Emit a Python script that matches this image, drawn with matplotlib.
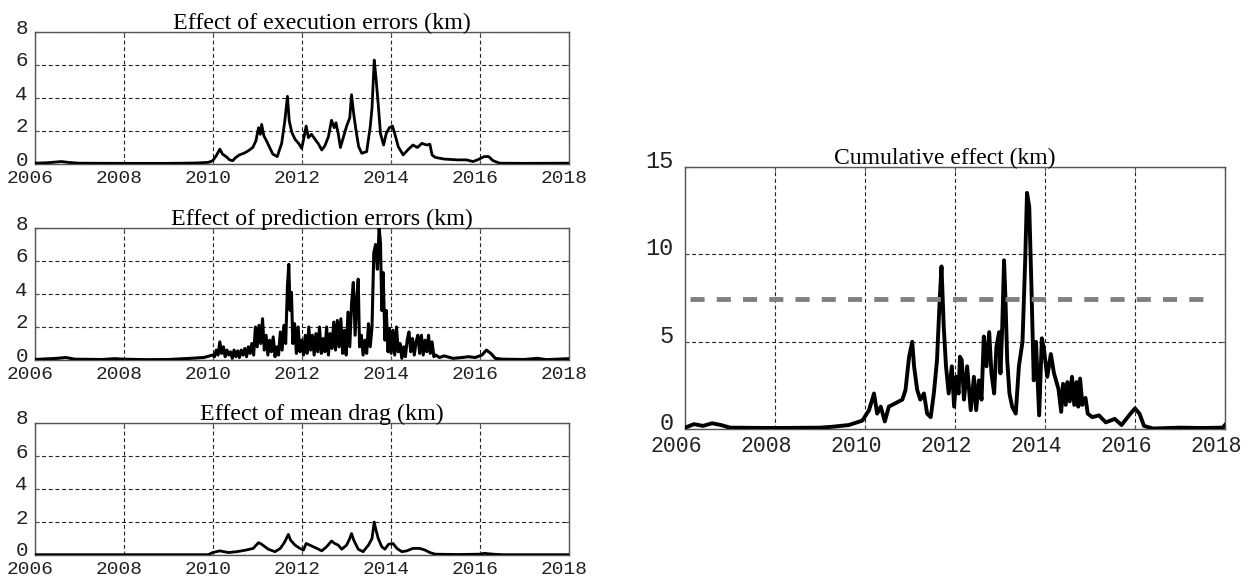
import matplotlib
matplotlib.use("Agg")
import matplotlib.pyplot as plt
import matplotlib.transforms as mtransforms

# ---------------- data ----------------
x_ticks = [2006, 2008, 2010, 2012, 2014, 2016, 2018]
x_ticklabels = ["2006", "2008", "2010", "2012", "2014", "2016", "2018"]
y_ticks_small = [0, 2, 4, 6, 8]
y_ticks_cum = [0, 5, 10, 15]

titles = ["Effect of execution errors (km)",
          "Effect of prediction errors (km)",
          "Effect of mean drag (km)"]
title_cum = "Cumulative effect (km)"

exec_t = [2006.0, 2006.3, 2006.6, 2006.75, 2007.0, 2008.0, 2009.0, 2009.6, 2009.9,
          2010.0, 2010.08, 2010.16, 2010.22, 2010.3, 2010.38, 2010.45, 2010.52, 2010.6,
          2010.7, 2010.8, 2010.9, 2010.97, 2011.03, 2011.07, 2011.1, 2011.15, 2011.2,
          2011.28, 2011.35, 2011.45, 2011.55, 2011.62, 2011.68, 2011.72, 2011.78, 2011.85,
          2011.93, 2012.0, 2012.05, 2012.1, 2012.15, 2012.22, 2012.3, 2012.38, 2012.45,
          2012.52, 2012.6, 2012.67, 2012.73, 2012.77, 2012.82, 2012.87, 2012.94, 2013.01,
          2013.08, 2013.12, 2013.17, 2013.22, 2013.28, 2013.35, 2013.46, 2013.54, 2013.58,
          2013.63, 2013.67, 2013.72, 2013.77, 2013.84, 2013.9, 2013.97, 2014.04, 2014.1,
          2014.17, 2014.28, 2014.4, 2014.5, 2014.6, 2014.7, 2014.81, 2014.88, 2014.93,
          2015.0, 2015.2, 2015.5, 2015.7, 2015.85, 2015.95, 2016.1, 2016.2, 2016.3,
          2016.45, 2017.0, 2018.0]
exec_v = [0.05, 0.08, 0.15, 0.1, 0.05, 0.04, 0.04, 0.06, 0.1,
          0.2, 0.5, 0.9, 0.6, 0.45, 0.25, 0.2, 0.4, 0.55,
          0.65, 0.8, 1.0, 1.4, 2.2, 1.8, 2.4, 1.7, 1.45,
          1.0, 0.6, 0.45, 1.25, 2.6, 4.1, 2.6, 1.9, 1.5,
          1.25, 0.95, 1.6, 2.3, 1.6, 1.8, 1.5, 1.2, 0.85,
          1.1, 1.65, 2.65, 2.2, 2.5, 1.85, 1.0, 1.65, 2.3,
          2.8, 4.2, 3.0, 2.05, 1.05, 0.65, 0.75, 2.25, 3.4,
          6.3, 5.2, 3.6, 1.85, 1.15, 1.85, 2.2, 2.3, 1.75,
          1.05, 0.55, 0.9, 1.15, 1.0, 1.25, 1.15, 1.2, 0.55,
          0.4, 0.3, 0.25, 0.25, 0.15, 0.25, 0.45, 0.45, 0.2,
          0.05, 0.04, 0.05]

pred_t = [2006.0, 2006.5, 2006.7, 2006.9, 2007.5, 2007.8, 2008.0, 2008.5, 2009.0, 2009.5, 2009.8, 2010.0,
          2010.04, 2010.08, 2010.12, 2010.16, 2010.2, 2010.24, 2010.28, 2010.32, 2010.36, 2010.4,
          2010.44, 2010.48, 2010.52, 2010.56, 2010.6, 2010.64, 2010.68, 2010.72, 2010.76, 2010.8,
          2010.84, 2010.88, 2010.92, 2010.96, 2011.0, 2011.04, 2011.08, 2011.12, 2011.16, 2011.2,
          2011.24, 2011.28, 2011.32, 2011.36, 2011.4, 2011.44, 2011.48, 2011.52, 2011.56, 2011.6,
          2011.64, 2011.68, 2011.71, 2011.74, 2011.77, 2011.8, 2011.84, 2011.88, 2011.92, 2011.96,
          2012.0, 2012.04, 2012.08, 2012.12, 2012.16, 2012.2, 2012.24, 2012.28, 2012.32, 2012.36,
          2012.4, 2012.44, 2012.48, 2012.52, 2012.56, 2012.6, 2012.64, 2012.68, 2012.72, 2012.76,
          2012.8, 2012.84, 2012.88, 2012.92, 2012.96, 2013.0, 2013.04, 2013.08, 2013.12, 2013.16,
          2013.2, 2013.24, 2013.27, 2013.3, 2013.34, 2013.38, 2013.42, 2013.46, 2013.5, 2013.54,
          2013.58, 2013.62, 2013.66, 2013.7, 2013.74, 2013.77, 2013.8, 2013.83, 2013.87, 2013.9,
          2013.94, 2013.97, 2014.01, 2014.05, 2014.09, 2014.13, 2014.17, 2014.21, 2014.25, 2014.29,
          2014.33, 2014.37, 2014.41, 2014.45, 2014.49, 2014.53, 2014.57, 2014.61, 2014.65, 2014.69,
          2014.73, 2014.77, 2014.81, 2014.85, 2014.89, 2014.93, 2014.97, 2015.01, 2015.1, 2015.2,
          2015.4, 2015.6, 2015.75, 2015.9, 2016.05, 2016.15, 2016.25, 2016.35, 2016.5, 2017.0,
          2017.3, 2017.5, 2018.0]
pred_v = [0.03, 0.1, 0.15, 0.05, 0.03, 0.08, 0.05, 0.02, 0.03, 0.1, 0.15, 0.3,
          0.2, 0.6, 0.3, 1.1, 0.4, 0.8, 0.2, 0.6, 0.3, 0.5,
          0.1, 0.6, 0.2, 0.55, 0.15, 0.6, 0.3, 0.7, 0.2, 0.8,
          0.4, 1.0, 0.3, 2.0, 0.8, 2.1, 1.0, 2.5, 0.6, 1.5,
          0.3, 1.2, 0.5, 1.4, 0.2, 0.8, 0.3, 1.7, 0.6, 2.1,
          1.0, 4.5, 5.8, 3.0, 4.1, 1.0, 2.2, 0.4, 2.0, 0.5,
          1.2, 0.3, 1.5, 0.4, 2.0, 0.6, 1.5, 0.3, 1.6, 0.5,
          2.0, 0.4, 1.3, 0.5, 2.0, 0.3, 1.6, 0.7, 2.3, 0.6,
          2.4, 0.8, 2.5, 0.4, 1.8, 0.3, 2.9, 0.8, 3.4, 4.7,
          1.5, 3.8, 4.9, 0.8, 1.5, 0.3, 1.2, 0.4, 2.2, 0.8,
          2.0, 6.5, 7.0, 5.5, 8.0, 7.1, 3.0, 5.3, 1.2, 3.0,
          0.5, 1.9, 0.4, 1.8, 0.3, 2.0, 0.5, 1.0, 0.1, 0.8,
          0.2, 1.2, 1.7, 0.5, 1.3, 0.3, 1.1, 1.5, 0.4, 1.5,
          0.3, 1.2, 0.5, 1.5, 0.4, 1.1, 0.2, 0.3, 0.15, 0.25,
          0.1, 0.15, 0.2, 0.15, 0.3, 0.6, 0.4, 0.1, 0.05, 0.03,
          0.1, 0.02, 0.08]

drag_t = [2006.0, 2009.9, 2010.0, 2010.16, 2010.35, 2010.54, 2010.75, 2010.91, 2011.03,
          2011.1, 2011.25, 2011.4, 2011.52, 2011.62, 2011.7, 2011.75, 2011.85, 2011.96,
          2012.04, 2012.1, 2012.22, 2012.34, 2012.45, 2012.56, 2012.67, 2012.74, 2012.82,
          2012.9, 2013.01, 2013.08, 2013.12, 2013.17, 2013.27, 2013.38, 2013.5, 2013.58,
          2013.63, 2013.67, 2013.72, 2013.8, 2013.87, 2013.95, 2014.05, 2014.14, 2014.25,
          2014.36, 2014.5, 2014.65, 2014.77, 2014.88, 2015.0, 2015.5, 2016.0, 2016.1,
          2016.3, 2016.5, 2018.0]
drag_v = [0.02, 0.02, 0.15, 0.25, 0.15, 0.2, 0.3, 0.4, 0.75,
          0.65, 0.35, 0.2, 0.4, 0.8, 1.25, 0.9, 0.6, 0.4,
          0.3, 0.7, 0.55, 0.4, 0.25, 0.5, 0.85, 0.7, 0.6,
          0.35, 0.6, 1.0, 1.3, 0.9, 0.35, 0.2, 0.6, 1.0,
          2.0, 1.5, 1.0, 0.5, 0.35, 0.65, 0.7, 0.4, 0.2,
          0.25, 0.4, 0.4, 0.3, 0.15, 0.05, 0.03, 0.05, 0.1,
          0.05, 0.02, 0.02]

cum_t = [2006.0, 2006.2, 2006.4, 2006.6, 2006.8, 2007.0, 2008.0, 2009.0, 2009.27, 2009.64,
         2009.94, 2010.09, 2010.2, 2010.27, 2010.35, 2010.44, 2010.53, 2010.68, 2010.83,
         2010.9, 2010.98, 2011.05, 2011.09, 2011.16, 2011.23, 2011.31, 2011.38, 2011.46,
         2011.53, 2011.6, 2011.66, 2011.7, 2011.75, 2011.8, 2011.86, 2011.93, 2011.98,
         2012.03, 2012.08, 2012.11, 2012.15, 2012.2, 2012.27, 2012.35, 2012.42, 2012.47,
         2012.53, 2012.59, 2012.64, 2012.7, 2012.76, 2012.81, 2012.87, 2012.92, 2012.98,
         2013.01, 2013.05, 2013.09, 2013.12, 2013.16, 2013.21, 2013.27, 2013.35, 2013.42,
         2013.5, 2013.56, 2013.6, 2013.65, 2013.7, 2013.75, 2013.8, 2013.87, 2013.93,
         2013.98, 2014.05, 2014.13, 2014.2, 2014.3, 2014.36, 2014.4, 2014.46, 2014.5,
         2014.55, 2014.6, 2014.65, 2014.7, 2014.74, 2014.78, 2014.83, 2014.9, 2014.95,
         2015.05, 2015.2, 2015.35, 2015.55, 2015.7, 2015.9, 2016.0, 2016.1, 2016.2,
         2016.4, 2017.0, 2017.5, 2017.95, 2018.0]
cum_v = [0.1, 0.3, 0.2, 0.35, 0.25, 0.1, 0.08, 0.1, 0.15, 0.25,
         0.5, 1.1, 2.05, 0.9, 1.3, 0.45, 1.3, 1.5, 1.7,
         2.25, 4.15, 5.0, 3.6, 2.25, 1.7, 2.05, 0.9, 0.7,
         2.05, 3.95, 7.4, 9.3, 5.85, 3.6, 2.05, 3.6, 1.3,
         3.0, 2.05, 4.15, 3.95, 1.7, 3.6, 1.1, 3.0, 1.1,
         2.8, 1.7, 5.3, 3.6, 5.55, 3.2, 2.05, 4.7, 5.55,
         3.2, 5.85, 9.65, 7.55, 3.95, 2.05, 1.3, 0.9, 3.6,
         5.0, 9.65, 13.5, 12.7, 8.0, 2.8, 5.0, 0.8, 5.2,
         4.5, 3.0, 4.3, 3.2, 2.3, 1.0, 2.6, 1.4, 2.7,
         1.6, 3.0, 1.4, 2.7, 1.3, 2.9, 1.4, 1.8, 0.9,
         0.7, 0.8, 0.4, 0.6, 0.25, 0.9, 1.2, 0.9, 0.2,
         0.05, 0.1, 0.08, 0.1, 0.25]

threshold = 7.45

# ---------------- figure ----------------
fig = plt.figure(figsize=(12.53, 5.79), dpi=100)
W, H = 1253.0, 579.0

def frac_axes(x0, x1, ytop, ybot):
    return fig.add_axes([x0 / W, 1 - ybot / H, (x1 - x0) / W, (ybot - ytop) / H])

mono = "Liberation Mono"
serif = "Liberation Serif"

def style(ax, yticks, ylim, title, title_x, title_size, xsize, ysize,
          xshift, yshift, ypad, xpad):
    ax.set_xlim(2006, 2018)
    ax.set_ylim(*ylim)
    ax.set_xticks(x_ticks)
    ax.set_xticklabels(x_ticklabels)
    ax.set_yticks(yticks)
    ax.set_yticklabels([str(v) for v in yticks])
    ax.grid(True, color="#222222", linestyle=(0, (3.5, 2.5)), linewidth=0.8)
    ax.set_axisbelow(True)
    for s in ax.spines.values():
        s.set_color("#555555")
        s.set_linewidth(1.0)
    ax.tick_params(direction="in", length=3, width=0.8, color="#555555",
                   top=True, right=True, labelcolor="#222222")
    ax.tick_params(axis="x", pad=xpad, labelsize=xsize)
    ax.tick_params(axis="y", pad=ypad, labelsize=ysize)
    for lab in ax.get_xticklabels() + ax.get_yticklabels():
        lab.set_fontfamily(mono)
    offx = mtransforms.ScaledTranslation(xshift / 100, 0, fig.dpi_scale_trans)
    offy = mtransforms.ScaledTranslation(0, yshift / 100, fig.dpi_scale_trans)
    for lab in ax.get_xticklabels():
        lab.set_transform(lab.get_transform() + offx)
    for lab in ax.get_yticklabels():
        lab.set_transform(lab.get_transform() + offy)
    ax.set_title(title, fontfamily=serif, fontsize=title_size, pad=2, x=title_x)

lx0, lx1 = 34.7, 568.7
ax1 = frac_axes(lx0, lx1, 32, 164)
ax2 = frac_axes(lx0, lx1, 228, 360)
ax3 = frac_axes(lx0, lx1, 423, 555)
ax4 = frac_axes(685, 1225, 166.6, 429.4)

ax1.plot(exec_t, exec_v, color="black", linewidth=2.0, zorder=3)
ax2.plot(pred_t, pred_v, color="black", linewidth=2.2, zorder=3)
ax3.plot(drag_t, drag_v, color="black", linewidth=2.0, zorder=3)
ax4.plot(cum_t, cum_v, color="black", linewidth=2.8, zorder=3)
ax4.plot([2006.12, 2017.68], [threshold, threshold], color="#808080",
         linewidth=3.5, linestyle=(0, (2.9, 2.5)), zorder=4)

for ax, t in zip([ax1, ax2, ax3], titles):
    style(ax, y_ticks_small, (0, 8), t, 0.537, 17.3, 14, 15, -5, 6, 5, 4)
style(ax4, y_ticks_cum, (0, 15), title_cum, 0.481, 17, 15.5, 17, -9, 8, 8, 5)

fig.savefig("out.png", dpi=100)
